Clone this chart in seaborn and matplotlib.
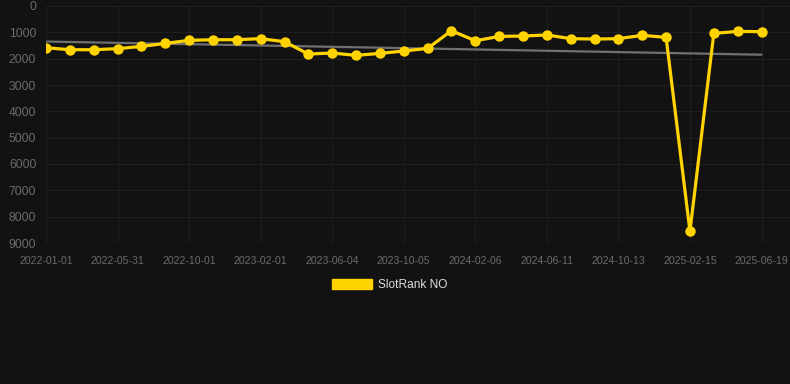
import numpy as np
import pandas as pd
import matplotlib
matplotlib.use("Agg")
import matplotlib.pyplot as plt
import seaborn as sns
from matplotlib.patches import Patch

# ---- data ----
rank_values = [1585, 1660, 1660, 1620, 1535, 1420, 1305, 1280, 1280, 1240,
               1355, 1825, 1785, 1875, 1800, 1710, 1610, 938, 1320, 1155,
               1140, 1100, 1240, 1255, 1240, 1115, 1190, 8555, 1040, 965, 975]
tick_labels = ["2022-01-01", "2022-05-31", "2022-10-01", "2023-02-01",
               "2023-06-04", "2023-10-05", "2024-02-06", "2024-06-11",
               "2024-10-13", "2025-02-15", "2025-06-19"]
trend_values = [1350, 1850]
series_name = "SlotRank NO"
y_ticks = [0, 1000, 2000, 3000, 4000, 5000, 6000, 7000, 8000, 9000]

# ---- style ----
BG = "#121212"
LINE = "#FFD300"
sns.set_theme(style="dark")
plt.rcParams["font.family"] = ["Liberation Sans", "DejaVu Sans"]

fig = plt.figure(figsize=(7.9, 3.84), dpi=100, facecolor=BG)
ax = fig.add_axes([46 / 790, 1 - 243 / 384, 1 - 46 / 790, (243 - 6) / 384])
ax.set_facecolor(BG)

idx = np.arange(len(rank_values))
df = pd.DataFrame({"idx": idx, "rank": rank_values})

# trend line
trend_df = pd.DataFrame({"idx": [idx[0], idx[-1]], "rank": trend_values})
sns.lineplot(data=trend_df, x="idx", y="rank", ax=ax, color="#707070",
             linewidth=1.6, zorder=2, legend=False)

sns.lineplot(data=df, x="idx", y="rank", ax=ax, color=LINE, linewidth=2.3,
             marker="o", markersize=7.5, markeredgewidth=0,
             markerfacecolor=LINE, zorder=3, legend=False)
for ln in ax.lines:
    ln.set_solid_joinstyle("miter")

ax.set_ylim(9000, 0)
ax.set_xlim(0, 30 + (790 - 761.5) / ((761.5 - 46) / 30))
ax.set_yticks(y_ticks)
ax.set_yticklabels([str(v) for v in y_ticks])
ax.set_xticks(idx[::3])
ax.set_xticklabels(tick_labels)

ax.grid(True, color="#1e1e1e", linewidth=0.8)
ax.set_axisbelow(True)
for s in ax.spines.values():
    s.set_visible(False)
ax.axhline(9000, color="#2a2a2a", linewidth=1, zorder=1)

ax.tick_params(axis="y", colors="#6b6b6b", labelsize=8.8, length=0, pad=7)
ax.tick_params(axis="x", colors="#6b6b6b", labelsize=7.6, length=0, pad=9)
ax.set_xlabel("")
ax.set_ylabel("")

handle = Patch(facecolor=LINE, edgecolor=LINE, label=series_name)
leg = fig.legend(handles=[handle], loc="center",
                 bbox_to_anchor=(0.5 - 5 / 790, 1 - 285 / 384),
                 frameon=False, fontsize=8.6, handlelength=3.3, handleheight=0.95,
                 handletextpad=0.55)
for t in leg.get_texts():
    t.set_color("#dddddd")

fig.savefig("out.png", dpi=100, facecolor=BG)
